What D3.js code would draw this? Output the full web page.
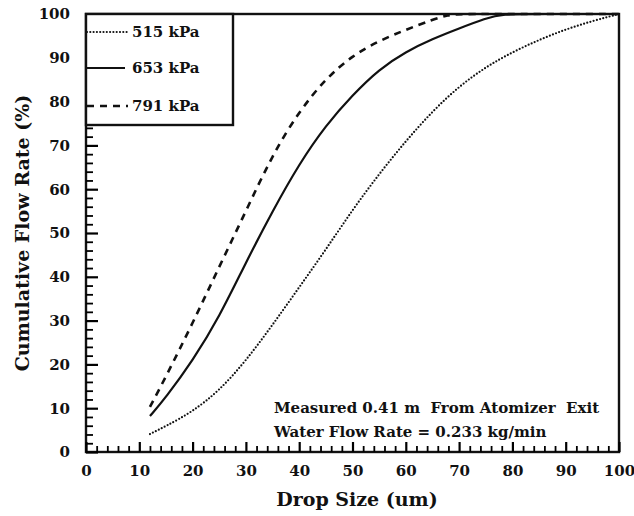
<!DOCTYPE html>
<html>
<head>
<meta charset="utf-8">
<script src="https://cdn.jsdelivr.net/npm/d3@7"></script>
<style>
  body { margin: 0; background: #fff; }
  svg { display: block; }
  text { font-family: "DejaVu Serif", "Liberation Serif", serif; font-weight: bold; fill: #111; }
</style>
</head>
<body>
<div id="chart"></div>
<script>
// drop size grid (um) for each series
var dropSize515 = [12, 15, 20, 25, 30, 35, 40, 45, 50, 55, 60, 65, 70, 75, 80, 85, 90, 95, 100];
var flow515 = [4.1, 5.9, 9.2, 14.0, 20.8, 29.0, 37.6, 46.2, 55.3, 63.5, 71.0, 77.8, 83.5, 87.9, 91.3, 94.1, 96.5, 98.4, 100];

var dropSize653 = [12, 15, 20, 25, 30, 35, 40, 45, 50, 55, 60, 65, 70, 75, 78, 85, 100];
var flow653 = [8.2, 12.5, 20.8, 30.8, 43.3, 55.0, 65.8, 74.6, 81.5, 87.4, 91.4, 94.3, 96.7, 99.0, 100, 100, 100];

var dropSize791 = [12, 15, 20, 25, 30, 35, 40, 45, 50, 55, 60, 65, 68, 70, 80, 100];
var flow791 = [10.3, 17.2, 29.4, 42.3, 55.0, 67.9, 77.8, 85.3, 90.5, 93.9, 96.4, 98.7, 99.8, 100, 100, 100];

var seriesLabels = ["515 kPa", "653 kPa", "791 kPa"];
var xTicks = [0, 10, 20, 30, 40, 50, 60, 70, 80, 90, 100];
var yTicks = [0, 10, 20, 30, 40, 50, 60, 70, 80, 90, 100];
var notes = ["Measured 0.41 m\u00a0 From Atomizer\u00a0 Exit", "Water Flow Rate = 0.233 kg/min"];

var W = 634, H = 516;
var margin = {top: 14, right: 15, bottom: 64, left: 86};
var width = W - margin.left - margin.right,
    height = H - margin.top - margin.bottom;

var svg = d3.select("#chart").append("svg").attr("width", W).attr("height", H);
var g = svg.append("g").attr("transform", "translate(" + margin.left + "," + margin.top + ")");

var x = d3.scaleLinear().domain([0, 100]).range([0, width]);
var y = d3.scaleLinear().domain([0, 100]).range([height, 0]);

var minor = d3.range(0, 101, 2).filter(function(d) { return d % 10 != 0; });

// frame
g.append("rect")
  .attr("width", width).attr("height", height)
  .attr("fill", "none").attr("stroke", "#111").attr("stroke-width", 2.4);

// inward ticks: axisTop sitting on the bottom edge, axisRight on the left edge
var xMinor = g.append("g").attr("class", "ticks")
  .attr("transform", "translate(0," + height + ")")
  .call(d3.axisTop(x).tickValues(minor).tickSize(6).tickFormat(""));
var yMinor = g.append("g").attr("class", "ticks")
  .call(d3.axisRight(y).tickValues(minor).tickSize(7).tickFormat(""));
var xMajor = g.append("g").attr("class", "ticks")
  .attr("transform", "translate(0," + height + ")")
  .call(d3.axisTop(x).tickValues(xTicks).tickSize(10).tickFormat(""));
var yMajor = g.append("g").attr("class", "ticks")
  .call(d3.axisRight(y).tickValues(yTicks).tickSize(12).tickFormat(""));
[xMinor, yMinor].forEach(function(a) {
  a.select(".domain").remove();
  a.selectAll(".tick line").style("stroke", "#000").style("stroke-width", "1.8px");
});
[xMajor, yMajor].forEach(function(a) {
  a.select(".domain").remove();
  a.selectAll(".tick line").style("stroke", "#000").style("stroke-width", "2.2px");
});

// tick labels
var xAxis = g.append("g")
  .attr("transform", "translate(0," + height + ")")
  .call(d3.axisBottom(x).tickValues(xTicks).tickSize(0).tickPadding(13).tickFormat(d3.format("d")));
var yAxis = g.append("g")
  .call(d3.axisLeft(y).tickValues(yTicks).tickSize(0).tickPadding(16).tickFormat(d3.format("d")));
[xAxis, yAxis].forEach(function(a) {
  a.select(".domain").remove();
  a.selectAll(".tick line").remove();
  a.selectAll(".tick text").style("font-size", "15px");
});

var line = d3.line()
  .curve(d3.curveBasis)
  .x(function(d) { return x(d[0]); })
  .y(function(d) { return y(d[1]); });

var series = [
  {label: seriesLabels[0], pts: d3.zip(dropSize515, flow515), dash: "0,3.3", width: 2.2, cap: "round", len: 42},
  {label: seriesLabels[1], pts: d3.zip(dropSize653, flow653), dash: null, width: 2.2, cap: "butt", len: 39},
  {label: seriesLabels[2], pts: d3.zip(dropSize791, flow791), dash: "7,6", width: 2.6, cap: "butt", len: 42}
];

g.selectAll("path.data")
  .data(series).enter()
  .append("path")
  .attr("class", "data")
  .attr("d", function(d) { return line(d.pts); })
  .attr("fill", "none")
  .attr("stroke", "#111")
  .attr("stroke-width", function(d) { return d.width; })
  .attr("stroke-linecap", function(d) { return d.cap; })
  .attr("stroke-dasharray", function(d) { return d.dash; });

// legend
var legend = g.append("g").attr("class", "legend");
legend.append("rect")
  .attr("width", 147).attr("height", 111)
  .attr("fill", "#fff").attr("stroke", "#111").attr("stroke-width", 2.4);
var rows = legend.selectAll("g.row").data(series).enter()
  .append("g").attr("class", "row")
  .attr("transform", function(d, i) { return "translate(0," + [18, 54, 92][i] + ")"; });
rows.append("line")
  .attr("x1", 1).attr("x2", function(d) { return d.len; })
  .attr("stroke", "#111")
  .attr("stroke-width", function(d) { return d.width; })
  .attr("stroke-linecap", function(d) { return d.cap; })
  .attr("stroke-dasharray", function(d) { return d.dash; });
rows.append("text")
  .attr("x", 46).attr("dy", "0.36em")
  .style("font-size", "15px")
  .text(function(d) { return d.label; });

// notes
g.selectAll("text.note").data(notes).enter()
  .append("text").attr("class", "note")
  .attr("x", 188)
  .attr("y", function(d, i) { return 399 + i * 24; })
  .style("font-size", "15px")
  .text(function(d) { return d; });

// axis titles
svg.append("text")
  .attr("x", 357).attr("y", 506)
  .attr("text-anchor", "middle")
  .style("font-size", "19px")
  .text("Drop Size (um)");
svg.append("text")
  .attr("transform", "translate(29," + (margin.top + height / 2) + ") rotate(-90)")
  .attr("text-anchor", "middle")
  .style("font-size", "19px")
  .text("Cumulative Flow Rate (%)");
</script>
</body>
</html>
